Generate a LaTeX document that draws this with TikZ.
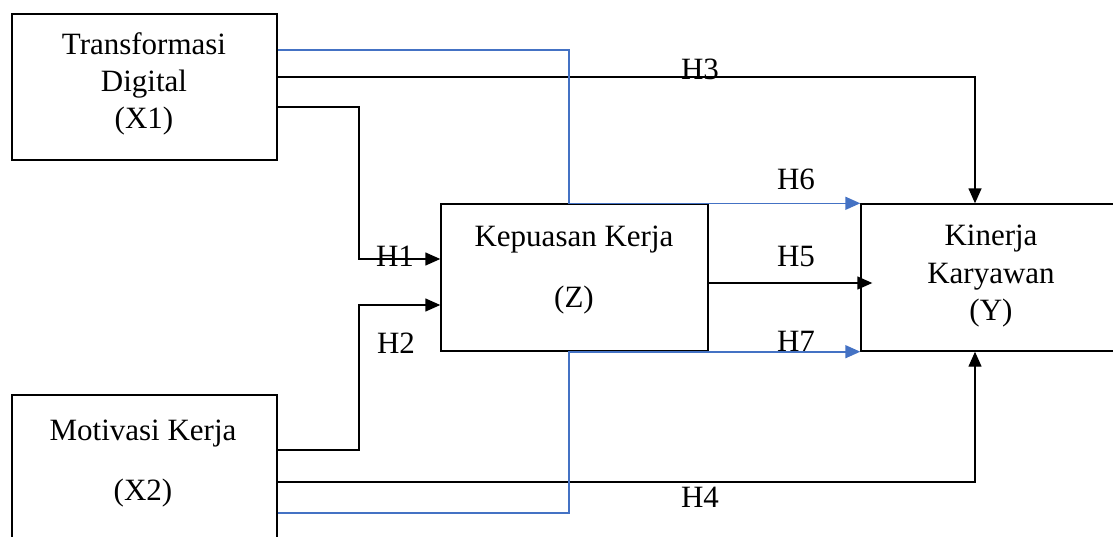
\documentclass[tikz,border=0pt]{standalone}
\usepackage{fontspec}
\setmainfont{Liberation Serif}
\usetikzlibrary{arrows.meta}
\definecolor{wblue}{RGB}{68,114,196}
\begin{document}
\begin{tikzpicture}[x=1pt,y=-1pt,
  box/.style={draw=black, line width=1.4pt, inner sep=0pt, rectangle},
  lbl/.style={anchor=base, inner sep=0pt, font=\fontsize{31}{37}\selectfont},
  conn/.style={line width=1.4pt, draw=black, -{Triangle[length=15pt,width=13pt]}},
  bconn/.style={line width=1.6pt, draw=wblue, -{Triangle[length=15pt,width=13pt]}}]
\useasboundingbox (0,0) rectangle (1113,536);
\clip (0,0) rectangle (1113,536);
% boxes
\node[box, minimum width=265pt, minimum height=146pt] (X1) at (144.5,87) {};
\node[box, minimum width=265pt, minimum height=146pt] (X2) at (144.5,468) {};
\node[box, minimum width=267pt, minimum height=147pt] (Z) at (574.5,277.5) {};
\node[box, minimum width=260pt, minimum height=147pt] (Y) at (991,277.5) {};
% box texts
\node[lbl] (x1a) at (144,54) {Transformasi};
\node[lbl] (x1b) at (144,91) {Digital};
\node[lbl] (x1c) at (144,128) {(X1)};
\node[lbl] (x2a) at (143,440) {Motivasi Kerja};
\node[lbl] (x2b) at (143,500) {(X2)};
\node[lbl] (za) at (574,246) {Kepuasan Kerja};
\node[lbl] (zb) at (574,307) {(Z)};
\node[lbl] (ya) at (991,245) {Kinerja};
\node[lbl] (yb) at (991,283) {Karyawan};
\node[lbl] (yc) at (991,320) {(Y)};
% connectors
\draw[conn] (X1.east |- 0,77) -| ([xshift=-16pt]Y.north);
\draw[conn] (X1.east |- 0,107) -- (359,107) -- (359,259) -- (Z.west |- 0,259);
\draw[conn] (X2.east |- 0,450) -- (359,450) -- (359,305) -- (Z.west |- 0,305);
\draw[conn] (X2.east |- 0,482) -| ([xshift=-16pt]Y.south);
\draw[conn, shorten >=-12pt] (Z.east |- 0,283) -- (Y.west |- 0,283);
\draw[bconn] (X1.east |- 0,50) -| (Z.north -| 569,0) -- (Y.north west);
\draw[bconn] (X2.east |- 0,513) -| (Z.south -| 569,0) -- (Y.south west);
% hypothesis labels
\node[lbl] (h1) at (395,266) {H1};
\node[lbl] (h2) at (396,353) {H2};
\node[lbl] (h3) at (700,79) {H3};
\node[lbl] (h4) at (700,507) {H4};
\node[lbl] (h5) at (796,266) {H5};
\node[lbl] (h6) at (796,189) {H6};
\node[lbl] (h7) at (796,351) {H7};
\end{tikzpicture}
\end{document}
